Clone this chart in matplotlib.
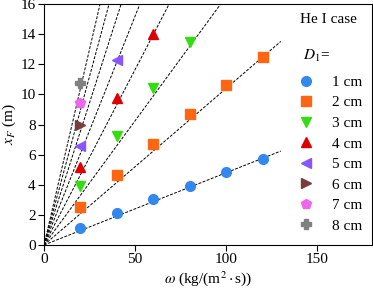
import numpy as np
import matplotlib
matplotlib.use("Agg")
import matplotlib.pyplot as plt

plt.rcParams['font.family'] = ['Liberation Serif', 'DejaVu Serif']
plt.rcParams['mathtext.fontset'] = 'stix'
plt.rcParams['font.size'] = 11

# D1 = 1..8 cm
diametros = ['1 cm', '2 cm', '3 cm', '4 cm', '5 cm', '6 cm', '7 cm', '8 cm']
omega = [
    [20, 40, 60, 80, 100, 120],
    [20, 40, 60, 80, 100, 120],
    [20, 40, 60, 80],
    [20, 40, 60],
    [20, 40],
    [20],
    [20],
    [20],
]
xf = [
    [1.1, 2.1, 3.05, 3.95, 4.85, 5.7],
    [2.5, 4.65, 6.7, 8.7, 10.65, 12.5],
    [3.9, 7.25, 10.45, 13.5],
    [5.2, 9.75, 14.0],
    [6.6, 12.3],
    [8.0],
    [9.4],
    [10.75],
]
# inclinacao das retas tracejadas
inclinacao = [0.048, 0.104, 0.165, 0.233, 0.304, 0.378, 0.448, 0.52]

cores = ['#3388ee', '#ff6611', '#33dd11', '#dd0000', '#8855ff', '#7a3b3b', '#ee66ee', '#808080']
marcadores = ['o', 's', 'v', '^', '<', '>', 'p', 'P']

fig = plt.figure(figsize=(3.73, 2.92), dpi=100)
ax = fig.add_axes([0.118, 0.161, 0.879, 0.825])

xr = np.array([0, 130])
for i in range(len(diametros)):
    ax.plot(xr, inclinacao[i] * xr, '--', color='black', lw=0.7, dashes=(3, 1.5), zorder=1)
    ax.plot(omega[i], xf[i], linestyle='none', marker=marcadores[i], color=cores[i],
            markersize=7, label=diametros[i], zorder=3)

ax.set_xlim(0, 180)
ax.set_ylim(0, 16)
ax.set_xticks([0, 50, 100, 150])
ax.set_yticks(range(0, 17, 2))
ax.tick_params(length=4, pad=2)
ax.set_xlabel(r'$\omega$ (kg/(m$^2\cdot$s))', labelpad=2)
ax.set_ylabel(r'$x_F$ (m)', labelpad=2)

ax.text(0.867, 0.938, 'He I case', transform=ax.transAxes, ha='center', va='center')
ax.text(0.79, 0.783, r'$D_1$=', transform=ax.transAxes, ha='left', va='center')
leg = ax.legend(loc='upper left', bbox_to_anchor=(0.775, 0.705), frameon=False, labelspacing=0.45,
                handletextpad=1.2, handlelength=1.0, borderaxespad=0.0, borderpad=0.0)

fig.savefig('out.png', dpi=100)
